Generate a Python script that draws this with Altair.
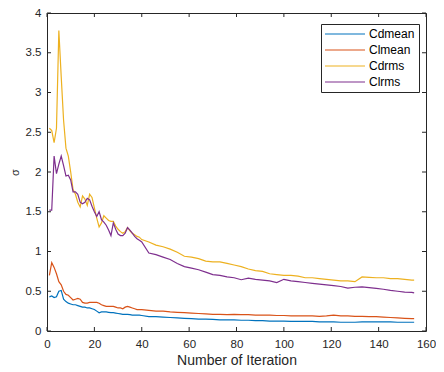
import altair as alt
import pandas as pd

iters = list(range(1, 41)) + list(range(43, 155, 3)) + [155]

cdrms = [2.55, 2.52, 2.37, 2.55, 3.78, 3.20, 2.65, 2.30, 2.20, 2.00,
         1.78, 1.72, 1.62, 1.56, 1.70, 1.66, 1.58, 1.72, 1.68, 1.55,
         1.42, 1.31, 1.36, 1.45, 1.42, 1.39, 1.38, 1.38, 1.32, 1.28,
         1.25, 1.23, 1.25, 1.30, 1.26, 1.23, 1.21, 1.19, 1.18, 1.15,
         1.12, 1.08, 1.06, 1.03, 0.99, 0.94, 0.93, 0.91, 0.88, 0.87,
         0.87, 0.85, 0.83, 0.81, 0.78, 0.76, 0.75, 0.72, 0.71, 0.70,
         0.70, 0.69, 0.67, 0.67, 0.66, 0.65, 0.64, 0.63, 0.63, 0.62,
         0.68, 0.675, 0.67, 0.67, 0.66, 0.66, 0.65, 0.64, 0.64]

clrms = [1.52, 1.52, 2.20, 1.98, 2.10, 2.20, 2.08, 1.95, 1.96, 1.90,
         1.75, 1.75, 1.72, 1.62, 1.60, 1.62, 1.67, 1.65, 1.57, 1.50,
         1.44, 1.50, 1.40, 1.37, 1.33, 1.27, 1.20, 1.36, 1.28, 1.22,
         1.20, 1.20, 1.23, 1.30, 1.27, 1.23, 1.19, 1.16, 1.14, 1.12,
         0.98, 0.96, 0.93, 0.90, 0.85, 0.81, 0.79, 0.77, 0.74, 0.71,
         0.70, 0.68, 0.67, 0.645, 0.665, 0.65, 0.64, 0.63, 0.61, 0.65,
         0.63, 0.62, 0.61, 0.60, 0.59, 0.58, 0.57, 0.56, 0.54, 0.55,
         0.555, 0.545, 0.535, 0.525, 0.51, 0.50, 0.49, 0.485, 0.48]

clmean = [0.70, 0.86, 0.80, 0.72, 0.62, 0.58, 0.50, 0.46, 0.45, 0.42,
          0.39, 0.40, 0.41, 0.40, 0.36, 0.35, 0.35, 0.36, 0.36, 0.36,
          0.36, 0.35, 0.33, 0.32, 0.31, 0.31, 0.31, 0.31, 0.30, 0.29,
          0.29, 0.28, 0.30, 0.31, 0.30, 0.29, 0.28, 0.27, 0.27, 0.27,
          0.26, 0.25, 0.25, 0.24, 0.235, 0.23, 0.225, 0.22, 0.215, 0.21,
          0.21, 0.205, 0.21, 0.205, 0.205, 0.20, 0.20, 0.20, 0.195, 0.195,
          0.19, 0.19, 0.19, 0.19, 0.185, 0.19, 0.20, 0.19, 0.19, 0.185,
          0.185, 0.18, 0.18, 0.175, 0.17, 0.165, 0.16, 0.155, 0.155]

cdmean = [0.43, 0.44, 0.42, 0.43, 0.50, 0.51, 0.40, 0.37, 0.35, 0.34,
          0.33, 0.33, 0.32, 0.31, 0.30, 0.30, 0.29, 0.29, 0.28, 0.27,
          0.25, 0.23, 0.24, 0.24, 0.24, 0.235, 0.23, 0.23, 0.225, 0.22,
          0.215, 0.21, 0.21, 0.21, 0.205, 0.20, 0.20, 0.20, 0.20, 0.195,
          0.18, 0.18, 0.175, 0.17, 0.165, 0.16, 0.155, 0.15, 0.15, 0.145,
          0.14, 0.14, 0.14, 0.135, 0.135, 0.13, 0.13, 0.125, 0.125, 0.125,
          0.12, 0.12, 0.12, 0.12, 0.115, 0.115, 0.115, 0.11, 0.11, 0.11,
          0.115, 0.115, 0.115, 0.115, 0.115, 0.11, 0.11, 0.11, 0.11]

names = ["Cdmean", "Clmean", "Cdrms", "Clrms"]
colors = ["#0072BD", "#D95319", "#EDB120", "#7E2F8E"]
x_ticks = [0, 20, 40, 60, 80, 100, 120, 140, 160]
y_ticks = [0, 0.5, 1, 1.5, 2, 2.5, 3, 3.5, 4]

rows = []
for name, vals in zip(names, [cdmean, clmean, cdrms, clrms]):
    for i, v in zip(iters, vals):
        rows.append({"iter": i, "val": v, "series": name})
df = pd.DataFrame(rows)

W, H = 379, 318
FONT = "Liberation Sans"
xs = alt.Scale(domain=[0, 160], nice=False, zero=False)
ys = alt.Scale(domain=[0, 4], nice=False, zero=False)
x_axis = alt.Axis(values=x_ticks, title="Number of Iteration", ticks=False, domain=False,
                  grid=False, labelPadding=7, titlePadding=4, labelFlush=False)
y_axis = alt.Axis(values=y_ticks, title="σ", ticks=False, domain=False, grid=False,
                  labelExpr="datum.value + ''", labelPadding=6, titlePadding=5,
                  labelFlush=False)

lines = alt.Chart(df).mark_line(strokeWidth=1.2).encode(
    x=alt.X("iter:Q", scale=xs, axis=x_axis),
    y=alt.Y("val:Q", scale=ys, axis=y_axis),
    color=alt.Color("series:N", scale=alt.Scale(domain=names, range=colors),
                    legend=alt.Legend(orient="none", legendX=274, legendY=11, title=None,
                                      symbolType="M-4,0H4", symbolSize=100, symbolStrokeWidth=1.2,
                                      symbolOffset=14, labelOffset=18,
                                      labelFontSize=12, labelFont=FONT, labelColor="#000000",
                                      strokeColor="#262626", fillColor="white", padding=4,
                                      rowPadding=4)),
    detail="series:N",
    order="iter:Q",
)

xt = pd.DataFrame({"t": x_ticks})
yt = pd.DataFrame({"t": y_ticks})
tick_color = "#262626"
xb = alt.Chart(xt).mark_rule(color=tick_color).encode(
    x=alt.X("t:Q", scale=xs, axis=x_axis), y=alt.value(H), y2=alt.value(H - 4))
xtop = alt.Chart(xt).mark_rule(color=tick_color).encode(
    x=alt.X("t:Q", scale=xs, axis=x_axis), y=alt.value(0), y2=alt.value(4))
yl = alt.Chart(yt).mark_rule(color=tick_color).encode(
    y=alt.Y("t:Q", scale=ys, axis=y_axis), x=alt.value(0), x2=alt.value(4))
yr = alt.Chart(yt).mark_rule(color=tick_color).encode(
    y=alt.Y("t:Q", scale=ys, axis=y_axis), x=alt.value(W), x2=alt.value(W - 4))

chart = alt.layer(lines, xb, xtop, yl, yr).properties(
    width=W, height=H,
    autosize=alt.AutoSizeParams(type="none"),
    padding={"left": 39, "top": 5, "right": 10, "bottom": 40},
).configure_view(stroke=tick_color, strokeWidth=1).configure_axis(
    labelFont=FONT, labelFontSize=11.5, labelColor="#262626",
    titleFont=FONT, titleFontSize=14, titleColor="#262626", titleFontWeight="normal",
).configure_axisY(titleFontSize=11, titleAngle=-90)

chart.save("out.html", embed_options={"renderer": "svg", "actions": False})
